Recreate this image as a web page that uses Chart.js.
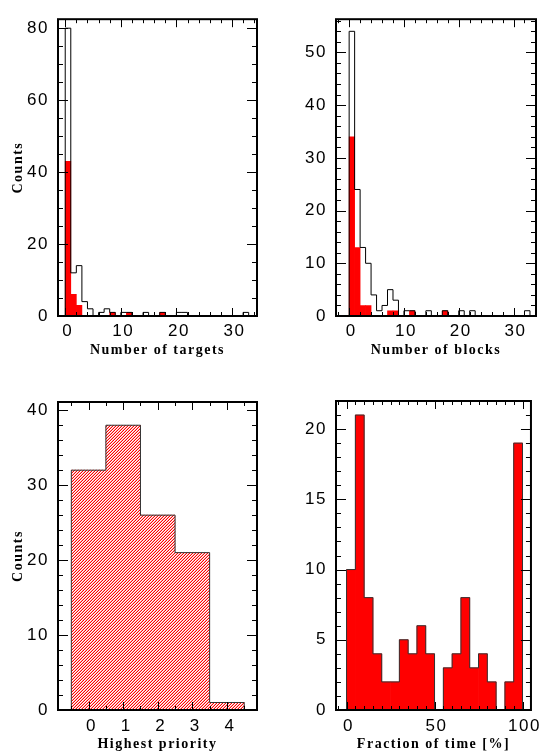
<!DOCTYPE html>
<html>
<head>
<meta charset="utf-8">
<script src="https://cdn.jsdelivr.net/npm/chart.js@4.4.1/dist/chart.umd.min.js"></script>
<style>
  html, body { margin: 0; padding: 0; background: #fff; }
  body { width: 543px; height: 756px; position: relative; overflow: hidden; }
  .panel { position: absolute; }
</style>
</head>
<body>
<div class="panel" style="left:0;top:0;width:270px;height:370px"><canvas id="targets"></canvas></div>
<div class="panel" style="left:270px;top:0;width:273px;height:370px"><canvas id="blocks"></canvas></div>
<div class="panel" style="left:0;top:380px;width:270px;height:376px"><canvas id="priority"></canvas></div>
<div class="panel" style="left:270px;top:380px;width:273px;height:376px"><canvas id="fraction"></canvas></div>
<script>
// Histogram counts, one value per bin (bins of width 1 starting at 0)
const targetsAll = [80, 12, 14, 4, 2, 0, 1, 2, 1, 0, 1, 1, 0, 0, 1, 0, 0, 1, 0, 0, 1, 1, 0, 0, 0, 0, 0, 0, 0, 0, 0, 0, 1, 0];
const targetsRed = [43, 6, 3, 0, 0, 0, 0, 0, 1, 0, 0, 1, 0, 0, 0, 0, 0, 1, 0, 0, 0, 0, 0, 0, 0, 0, 0, 0, 0, 0, 0, 0, 0, 0];
const blocksAll = [54, 24, 13, 10, 4, 1, 2, 5, 3, 0, 1, 1, 0, 0, 1, 0, 0, 1, 0, 0, 1, 0, 1, 0, 0, 0, 0, 0, 0, 0, 0, 0, 1, 0];
const blocksRed = [34, 13, 2, 2, 0, 0, 0, 1, 1, 0, 0, 1, 0, 0, 0, 0, 0, 1, 0, 0, 0, 0, 0, 0, 0, 0, 0, 0, 0, 0, 0, 0, 0, 0];

// Highest priority (bins centred on 0..4)
const priorityCounts = [32, 38, 26, 21, 1];

// Fraction of time, bins of 5 % from 0 to 100
const fractionCounts = [10, 21, 8, 4, 2, 2, 5, 4, 6, 4, 0, 3, 4, 8, 3, 4, 2, 0, 2, 19];

// Tick labels
const numberTicks = [0, 10, 20, 30];
const targetsYTicks = [0, 20, 40, 60, 80];
const blocksYTicks = [0, 10, 20, 30, 40, 50];
const priorityXTicks = [0, 1, 2, 3, 4];
const priorityYTicks = [0, 10, 20, 30, 40];
const fractionXTicks = [0, 50, 100];
const fractionYTicks = [0, 5, 10, 15, 20];

const RED = '#ff0000';
Chart.defaults.color = '#000';

// outline of a histogram as a stepped line, built from the bin counts
function stepPoints(counts, start, width) {
  const pts = [{ x: start, y: 0 }];
  counts.forEach((c, i) => pts.push({ x: start + i * width, y: c }));
  pts.push({ x: start + counts.length * width, y: 0 });
  return pts;
}

function barPoints(counts, start, width) {
  return counts.map((c, i) => ({ x: start + (i + 0.5) * width, y: c }));
}

// diagonal red hatching
function hatch() {
  const c = document.createElement('canvas');
  c.width = 3; c.height = 3;
  const g = c.getContext('2d');
  for (let i = 0; i < 3; i++) {
    for (let j = 0; j < 3; j++) {
      const d = (i + j) % 3;
      g.fillStyle = d === 2 ? RED : d === 1 ? '#ffa8a8' : '#fff';
      g.fillRect(i, j, 1, 1);
    }
  }
  return g.createPattern(c, 'repeat');
}

// IDL style frame: box plus inward ticks on all four sides
const framePlugin = {
  id: 'frame',
  beforeDraw(chart) {
    chart.ctx.letterSpacing = '1.5px';
  },
  afterDatasetsDraw(chart, args, opts) {
    const { ctx, chartArea: a, scales: { x, y } } = chart;
    ctx.save();
    ctx.strokeStyle = '#000';
    ctx.lineWidth = 1;
    ctx.beginPath();
    const n0 = Math.ceil(x.min / opts.xMinor - 1e-6);
    for (let k = n0; k * opts.xMinor <= x.max + 1e-6; k++) {
      const v = k * opts.xMinor;
      const r = v / opts.xMajor;
      const len = Math.abs(r - Math.round(r)) < 1e-6 ? 8 : 4;
      const px = Math.round(x.getPixelForValue(v)) + 0.5;
      ctx.moveTo(px, a.bottom); ctx.lineTo(px, a.bottom - len);
      ctx.moveTo(px, a.top); ctx.lineTo(px, a.top + len);
    }
    const m0 = Math.ceil(y.min / opts.yMinor - 1e-6);
    for (let k = m0; k * opts.yMinor <= y.max + 1e-6; k++) {
      const v = k * opts.yMinor;
      const r = v / opts.yMajor;
      const len = Math.abs(r - Math.round(r)) < 1e-6 ? 10 : 5;
      const py = Math.round(y.getPixelForValue(v)) + 0.5;
      ctx.moveTo(a.left, py); ctx.lineTo(a.left + len, py);
      ctx.moveTo(a.right, py); ctx.lineTo(a.right - len, py);
    }
    ctx.stroke();
    ctx.lineWidth = 2;
    ctx.strokeRect(a.left, a.top, a.right - a.left, a.bottom - a.top);
    ctx.restore();
  }
};

function panel(id, cfg) {
  const tickFont = { family: 'Liberation Sans', size: 17 };
  const titleFont = { family: 'Liberation Serif', size: 14, weight: 'bold' };
  return new Chart(document.getElementById(id), {
    type: 'bar',
    data: { datasets: cfg.datasets },
    plugins: [framePlugin],
    options: {
      responsive: true,
      maintainAspectRatio: false,
      animation: false,
      events: [],
      layout: { padding: cfg.padding },
      plugins: {
        legend: { display: false },
        tooltip: { enabled: false },
        frame: { xMinor: cfg.xMinor, xMajor: cfg.xMajor, yMinor: cfg.yMinor, yMajor: cfg.yMajor }
      },
      scales: {
        x: {
          type: 'linear',
          min: cfg.xMin, max: cfg.xMax,
          offset: false,
          grid: { display: false, drawTicks: false },
          border: { display: false },
          afterBuildTicks: s => { s.ticks = cfg.xTicks.map(v => ({ value: v })); },
          afterFit: s => { s.height = cfg.xHeight; },
          ticks: { font: tickFont, padding: cfg.xLabelPad, labelOffset: cfg.labelOffset, maxRotation: 0, autoSkip: false },
          title: { display: true, text: cfg.xTitle, font: titleFont, padding: { top: 0, bottom: cfg.xTitlePad } }
        },
        y: {
          type: 'linear',
          min: cfg.yMin, max: cfg.yMax,
          grid: { display: false, drawTicks: false },
          border: { display: false },
          afterBuildTicks: s => { s.ticks = cfg.yTicks.map(v => ({ value: v })); },
          afterFit: s => { s.width = cfg.yWidth; },
          ticks: { font: tickFont, padding: 9, autoSkip: false },
          title: { display: !!cfg.yTitle, text: cfg.yTitle, font: titleFont, padding: { top: 10, bottom: 0 } }
        }
      }
    }
  });
}

panel('targets', {
  datasets: [
    { type: 'line', data: stepPoints(targetsAll, 0, 1), stepped: 'before', borderColor: '#000', borderWidth: 1, pointRadius: 0, fill: false, order: 0 },
    { type: 'bar', data: barPoints(targetsRed, 0, 1), backgroundColor: RED, borderWidth: 0, barPercentage: 1, categoryPercentage: 1, order: 1 }
  ],
  xMin: -1.3, xMax: 34.5, yMin: 0, yMax: 82.5,
  xTicks: numberTicks, yTicks: targetsYTicks,
  xMinor: 2, xMajor: 10, yMinor: 5, yMajor: 20,
  xTitle: 'Number of targets', yTitle: 'Counts',
  yWidth: 58, xHeight: 54, padding: { left: 0, right: 13, top: 6, bottom: 0 },
  xLabelPad: 5, labelOffset: 2.5, xTitlePad: 11
});

panel('blocks', {
  datasets: [
    { type: 'line', data: stepPoints(blocksAll, 0, 1), stepped: 'before', borderColor: '#000', borderWidth: 1, pointRadius: 0, fill: false, order: 0 },
    { type: 'bar', data: barPoints(blocksRed, 0, 1), backgroundColor: RED, borderWidth: 0, barPercentage: 1, categoryPercentage: 1, order: 1 }
  ],
  xMin: -2.4, xMax: 34.1, yMin: 0, yMax: 56.3,
  xTicks: numberTicks, yTicks: blocksYTicks,
  xMinor: 2, xMajor: 10, yMinor: 2, yMajor: 10,
  xTitle: 'Number of blocks', yTitle: '',
  yWidth: 66, xHeight: 54, padding: { left: 0, right: 7, top: 7, bottom: 0 },
  xLabelPad: 5, labelOffset: 2, xTitlePad: 11
});

panel('priority', {
  datasets: [
    { type: 'line', data: stepPoints(priorityCounts, -0.5, 1), stepped: 'before', borderColor: '#333', borderWidth: 1, pointRadius: 0, fill: false, order: 0 },
    { type: 'bar', data: barPoints(priorityCounts, -0.5, 1), backgroundColor: hatch(), borderWidth: 0, barPercentage: 1, categoryPercentage: 1, order: 1 }
  ],
  xMin: -0.885, xMax: 4.87, yMin: 0, yMax: 41.1,
  xTicks: priorityXTicks, yTicks: priorityYTicks,
  xMinor: 0.5, xMajor: 1, yMinor: 2, yMajor: 10,
  xTitle: 'Highest priority', yTitle: 'Counts',
  yWidth: 58, xHeight: 46, padding: { left: 0, right: 13, top: 22, bottom: 0 },
  xLabelPad: 6, labelOffset: 3, xTitlePad: 3
});

panel('fraction', {
  datasets: [
    { type: 'line', data: stepPoints(fractionCounts, 0, 5), stepped: 'before', borderColor: '#333', borderWidth: 1, pointRadius: 0, fill: false, order: 0 },
    { type: 'bar', data: barPoints(fractionCounts, 0, 5), backgroundColor: RED, borderWidth: 0, barPercentage: 1, categoryPercentage: 1, order: 1 }
  ],
  xMin: -6, xMax: 104.8, yMin: 0, yMax: 22,
  xTicks: fractionXTicks, yTicks: fractionYTicks,
  xMinor: 5, xMajor: 50, yMinor: 1, yMajor: 5,
  xTitle: 'Fraction of time [%]', yTitle: '',
  yWidth: 66, xHeight: 46, padding: { left: 0, right: 7, top: 21, bottom: 0 },
  xLabelPad: 6, labelOffset: 2, xTitlePad: 3
});
</script>
</body>
</html>
